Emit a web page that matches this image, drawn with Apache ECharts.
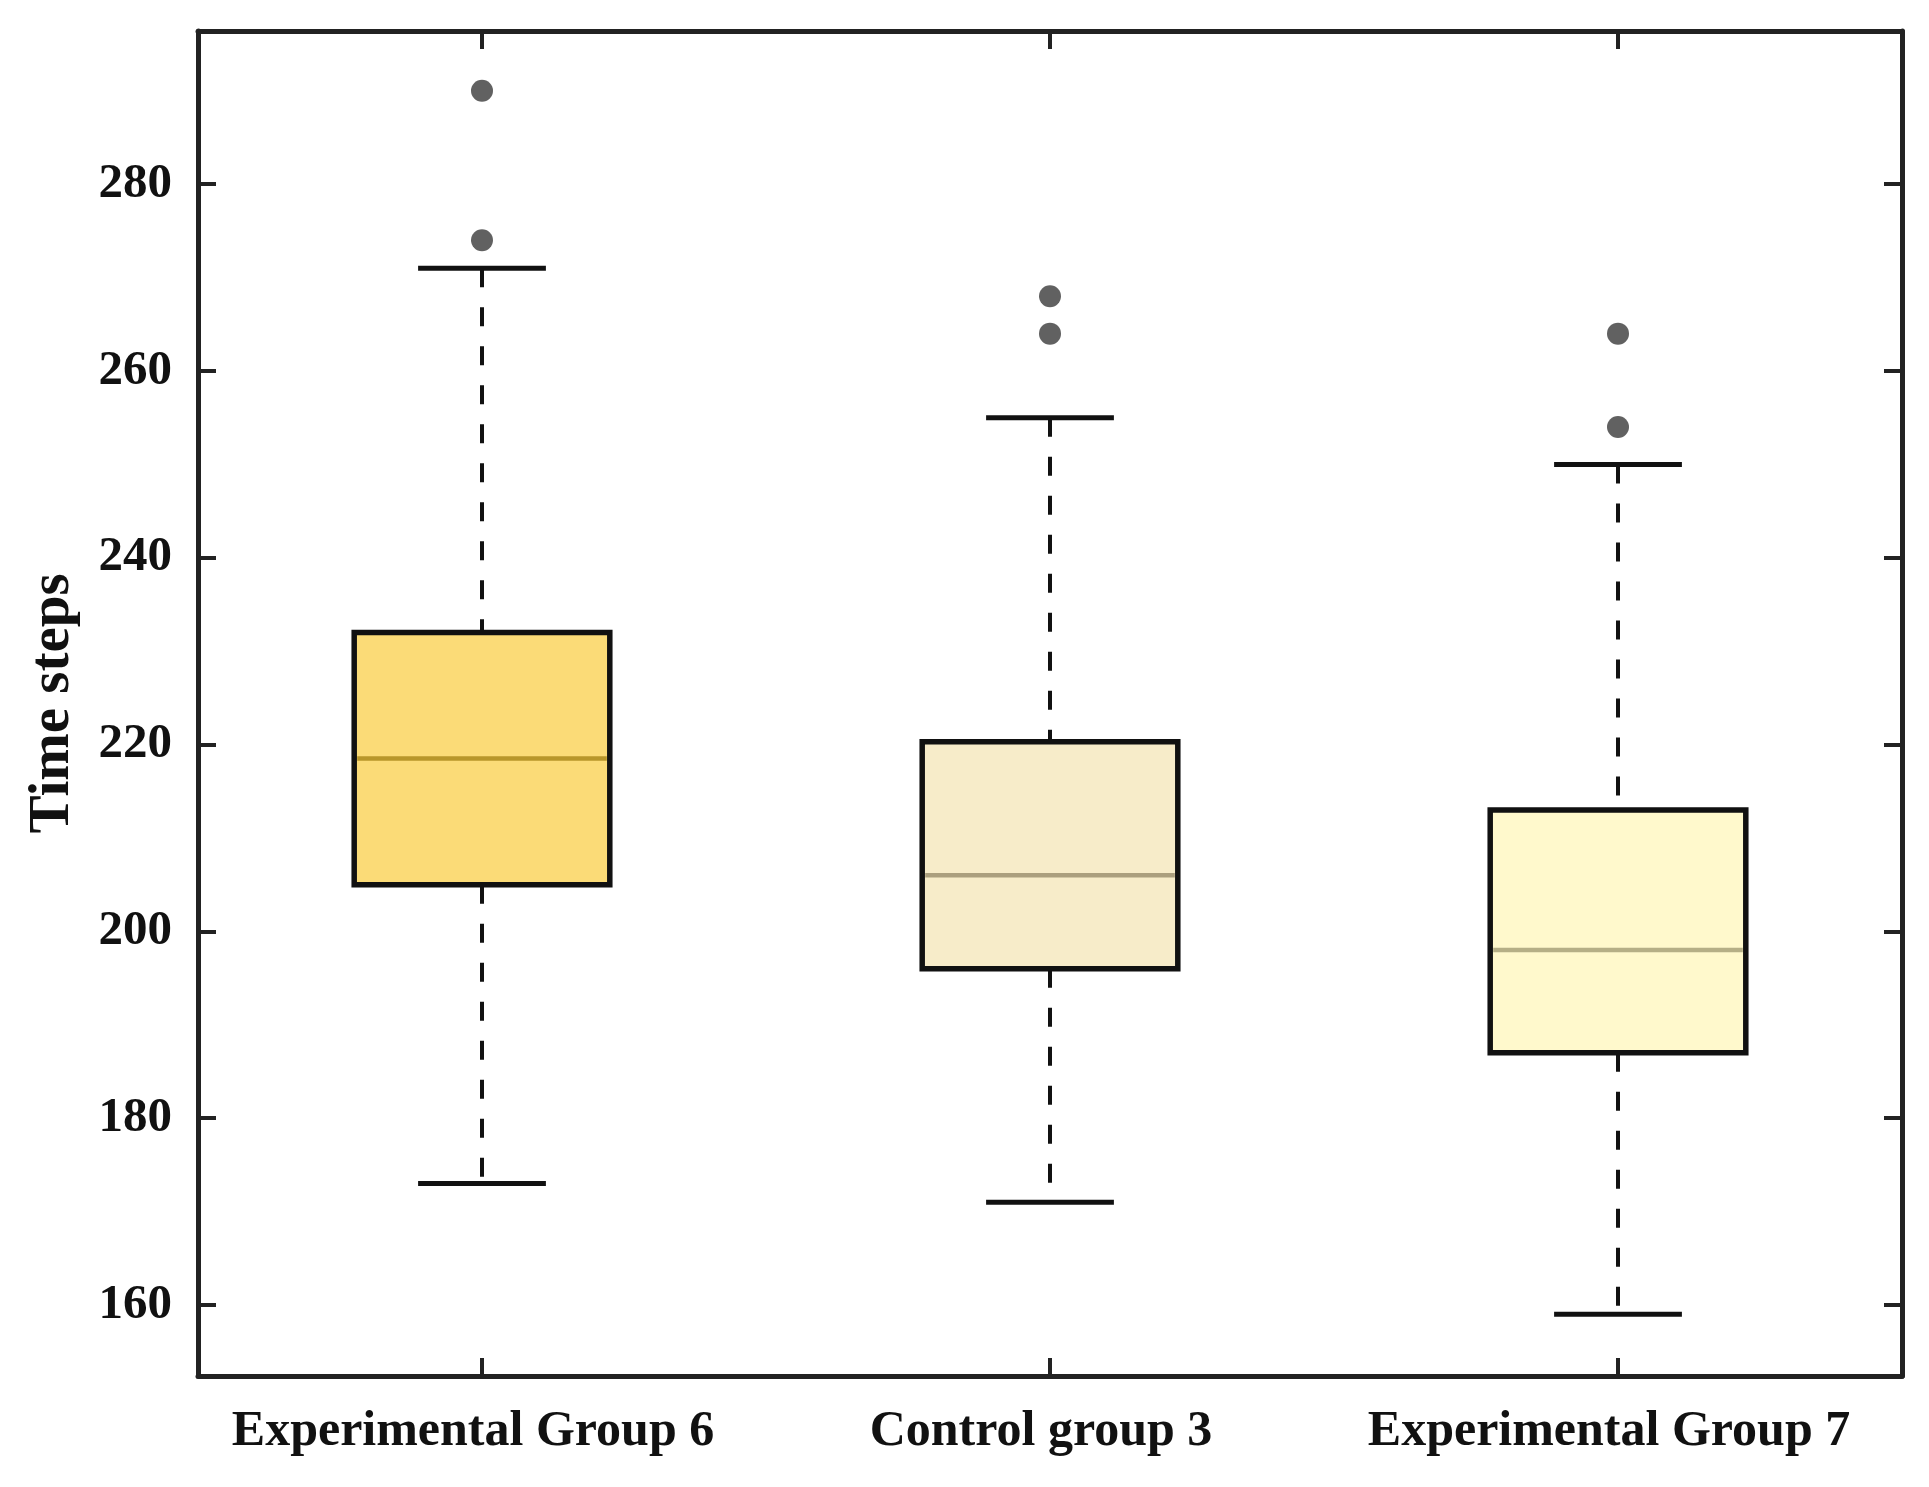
<!DOCTYPE html>
<html>
<head>
<meta charset="utf-8">
<script src="https://cdn.jsdelivr.net/npm/echarts@6/dist/echarts.min.js"></script>
<style>
  html, body { margin: 0; padding: 0; background: #fff; }
  #chart { width: 1929px; height: 1487px; }
</style>
</head>
<body>
<div id="chart"></div>
<script>
// groups on the x axis
const categories = ['Experimental Group 6', 'Control group 3', 'Experimental Group 7'];

// box statistics
const lowerWhisker = [173, 171, 159];
const q1 = [205, 196, 187];
const median = [218.5, 206, 198];
const q3 = [232, 220.3, 213];
const upperWhisker = [271, 255, 250];

// outliers: [group index, value]
const outliers = [[0, 290], [0, 274], [1, 268], [1, 264], [2, 264], [2, 254]];

const fillColors = ['#fbdb77', '#f7ecc9', '#fff9cc'];
const medianColors = ['#b8962a', '#ab9f7e', '#b5af86'];

const yMin = 152.4;
const yMax = 296.4;

const font = 'Liberation Serif';
const ink = '#111';

const chart = echarts.init(document.getElementById('chart'));

const boxData = categories.map((c, i) =>
  [i, lowerWhisker[i], q1[i], median[i], q3[i], upperWhisker[i]]);

function renderBox(params, api) {
  const i = api.value(0);
  const band = api.size([1, 0])[0];
  const half = band * 0.225;
  const capHalf = band * 0.1125;
  const pLo = api.coord([i, api.value(1)]);
  const pQ1 = api.coord([i, api.value(2)]);
  const pMed = api.coord([i, api.value(3)]);
  const pQ3 = api.coord([i, api.value(4)]);
  const pHi = api.coord([i, api.value(5)]);
  const cx = pMed[0];
  const dash = {stroke: ink, lineWidth: 4, lineDash: [19, 20]};
  const solid = {stroke: ink, lineWidth: 5};
  return {
    type: 'group',
    children: [
      {type: 'line', shape: {x1: cx, y1: pHi[1], x2: cx, y2: pQ3[1]}, style: dash},
      {type: 'line', shape: {x1: cx, y1: pQ1[1], x2: cx, y2: pLo[1]}, style: dash},
      {type: 'line', shape: {x1: cx - capHalf, y1: pHi[1], x2: cx + capHalf, y2: pHi[1]}, style: solid},
      {type: 'line', shape: {x1: cx - capHalf, y1: pLo[1], x2: cx + capHalf, y2: pLo[1]}, style: solid},
      {
        type: 'rect',
        shape: {x: cx - half, y: pQ3[1], width: half * 2, height: pQ1[1] - pQ3[1]},
        style: {fill: fillColors[params.dataIndex], stroke: ink, lineWidth: 5.5}
      },
      {
        type: 'line',
        shape: {x1: cx - half + 3, y1: pMed[1], x2: cx + half - 3, y2: pMed[1]},
        style: {stroke: medianColors[params.dataIndex], lineWidth: 4.5}
      }
    ]
  };
}

const axisLine = {show: true, lineStyle: {color: '#222', width: 5}};
const tick = {show: true, inside: true, length: 18, lineStyle: {color: '#222', width: 4}};

chart.setOption({
  animation: false,
  backgroundColor: '#fff',
  grid: {left: 198, right: 27, top: 31, bottom: 111, containLabel: false},
  xAxis: [
    {
      type: 'category', data: categories, position: 'bottom', boundaryGap: true,
      axisLine: axisLine,
      axisTick: {...tick, alignWithLabel: true},
      axisLabel: {
        interval: 0, hideOverlap: false, padding: [0, 18, 0, 0],
        margin: 31, fontFamily: font, fontWeight: 'bold', fontSize: 50, color: ink
      },
      splitLine: {show: false}
    },
    {
      type: 'category', data: categories, position: 'top', boundaryGap: true,
      axisLine: axisLine,
      axisTick: {...tick, alignWithLabel: true},
      axisLabel: {show: false},
      splitLine: {show: false}
    }
  ],
  yAxis: [
    {
      type: 'value', min: yMin, max: yMax, splitNumber: 7, position: 'left',
      axisLine: axisLine, axisTick: tick,
      axisLabel: {
        margin: 26, fontFamily: font, fontWeight: 'bold', fontSize: 49, color: ink,
        showMinLabel: false, showMaxLabel: false
      },
      splitLine: {show: false},
      name: 'Time steps', nameLocation: 'middle', nameRotate: 90, nameGap: 116,
      nameTextStyle: {fontFamily: font, fontWeight: 'bold', fontSize: 57, color: ink}
    },
    {
      type: 'value', min: yMin, max: yMax, splitNumber: 7, position: 'right',
      axisLine: axisLine, axisTick: tick,
      axisLabel: {show: false},
      splitLine: {show: false}
    }
  ],
  series: [
    {
      type: 'custom',
      xAxisIndex: 0, yAxisIndex: 0,
      renderItem: renderBox,
      encode: {x: 0, y: [1, 2, 3, 4, 5]},
      data: boxData,
      z: 2
    },
    {
      type: 'scatter',
      xAxisIndex: 0, yAxisIndex: 0,
      symbol: 'circle', symbolSize: 22,
      itemStyle: {color: '#3a3a3a'},
      data: outliers,
      z: 3
    }
  ]
});
</script>
</body>
</html>
